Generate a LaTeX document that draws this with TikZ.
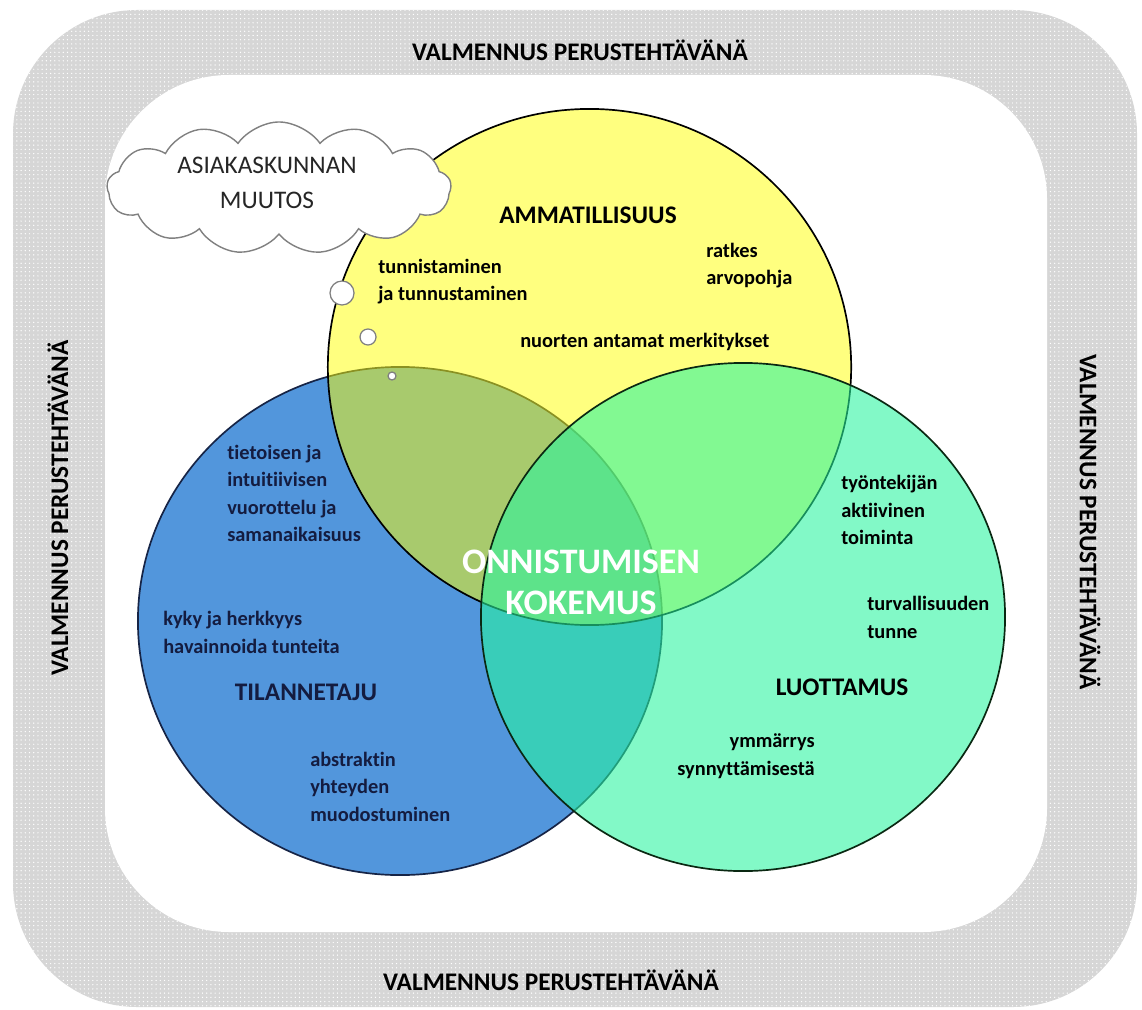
\documentclass[tikz,border=0pt]{standalone}
\usepackage{fontspec}
\setmainfont[Ligatures=NoCommon]{Carlito}
\usetikzlibrary{shapes.symbols,patterns}

\definecolor{venny}{RGB}{255,255,0}
\definecolor{vennb}{RGB}{82,150,220}
\definecolor{venng}{RGB}{40,246,160}
\definecolor{bandgray}{RGB}{214,214,214}
\definecolor{navytext}{RGB}{20,28,64}
\definecolor{navyline}{RGB}{22,36,70}
\definecolor{greenline}{RGB}{10,40,18}

\begin{document}
\begin{tikzpicture}[x=0.025cm, y=-0.025cm,
    body/.style={font=\bfseries\fontsize{14.5}{19.6}\selectfont, align=left, inner sep=0pt},
    head/.style={font=\bfseries\fontsize{18}{22}\selectfont, inner sep=0pt},
    band/.style={font=\bfseries\fontsize{18}{22}\selectfont, inner sep=0pt},
    bubble/.style={circle, draw=gray, fill=white, line width=0.9pt, inner sep=0pt}]
        \useasboundingbox (0,0) rectangle (1142,1010);

        % frame
        \fill[bandgray, rounded corners=3.1cm] (13,10) rectangle (1137,1007);
        \fill[pattern=dots, pattern color=white, rounded corners=3.1cm] (13,10) rectangle (1137,1007);
        \fill[white, rounded corners=3.1cm] (105,75) rectangle (1047,932);

        \node[band] (vtop) at (580,50) {VALMENNUS PERUSTEHTÄVÄNÄ};
        \node[band] (vbot) at (551,980) {VALMENNUS PERUSTEHTÄVÄNÄ};
        \node[band, rotate=90] (vleft) at (58,508) {VALMENNUS PERUSTEHTÄVÄNÄ};
        \node[band, rotate=-90] (vright) at (1090,522) {VALMENNUS PERUSTEHTÄVÄNÄ};

        % circles
        \coordinate (B) at (400,621);
        \coordinate (Y) at (589.5,367);
        \coordinate (G) at (743,617);

        \draw[fill=vennb, draw=navyline, line width=1.2pt] (B) ellipse [x radius=6.55cm, y radius=6.35cm];
        \draw[fill=venny, fill opacity=0.5, draw=black, line width=1.2pt] (Y) ellipse [x radius=6.54cm, y radius=6.45cm];
        \draw[fill=venng, fill opacity=0.58, draw=greenline, line width=1.2pt] (G) ellipse [x radius=6.55cm, y radius=6.35cm];

        % yellow
        \node[head] (ammat) at (588,215) {AMMATILLISUUS};
        \node[body, anchor=west] (tunnis) at (378,281.5) {tunnistaminen\\ja tunnustaminen};
        \node[body, anchor=west] (ratkes) at (706,265.5) {ratkes\\arvopohja};
        \node[body, anchor=west] (nuoret) at (520,342) {nuorten antamat merkitykset};

        % blue
        \node[body, text=navytext, anchor=west] (tietoinen) at (227,493.5) {tietoisen ja\\intuitiivisen\\vuorottelu ja\\samanaikaisuus};
        \node[body, text=navytext, anchor=west] (kyky) at (163,632.5) {kyky ja herkkyys\\havainnoida tunteita};
        \node[head, text=navytext] (tilanne) at (306,692) {TILANNETAJU};
        \node[body, text=navytext, anchor=west] (abstr) at (310,786.5) {abstraktin\\yhteyden\\muodostuminen};

        % green
        \node[body, anchor=west] (tyontek) at (841,510) {työntekijän\\aktiivinen\\toiminta};
        \node[body, anchor=west] (turva) at (867,617.5) {turvallisuuden\\tunne};
        \node[head] (luotto) at (842,687) {LUOTTAMUS};
        \node[body, align=right, anchor=east] (ymmarrys) at (815,756) {ymmärrys\\synnyttämisestä};

        \node[font=\bfseries\fontsize{25.5}{29}\selectfont, text=white, align=center, inner sep=0pt] (onni) at (581,582) {ONNISTUMISEN\\KOKEMUS};

        % cloud
        \node[cloud, cloud puffs=13, cloud puff arc=110, aspect=2.6, draw=gray, fill=white, line width=1pt,
              minimum width=8.6cm, minimum height=3.3cm, inner sep=0pt] (pilvi) at (279,188) {};
        \node[font=\fontsize{18}{24.8}\selectfont, text=black!85, align=center, inner sep=0pt] (asiakas) at (267,182.5) {ASIAKASKUNNAN\\MUUTOS};
        \node[bubble, minimum size=0.6cm] (kupla1) at (342,293) {};
        \node[bubble, minimum size=0.4cm] (kupla2) at (368,337) {};
        \node[bubble, minimum size=0.2cm] (kupla3) at (392,376) {};

    \end{tikzpicture}
\end{document}
